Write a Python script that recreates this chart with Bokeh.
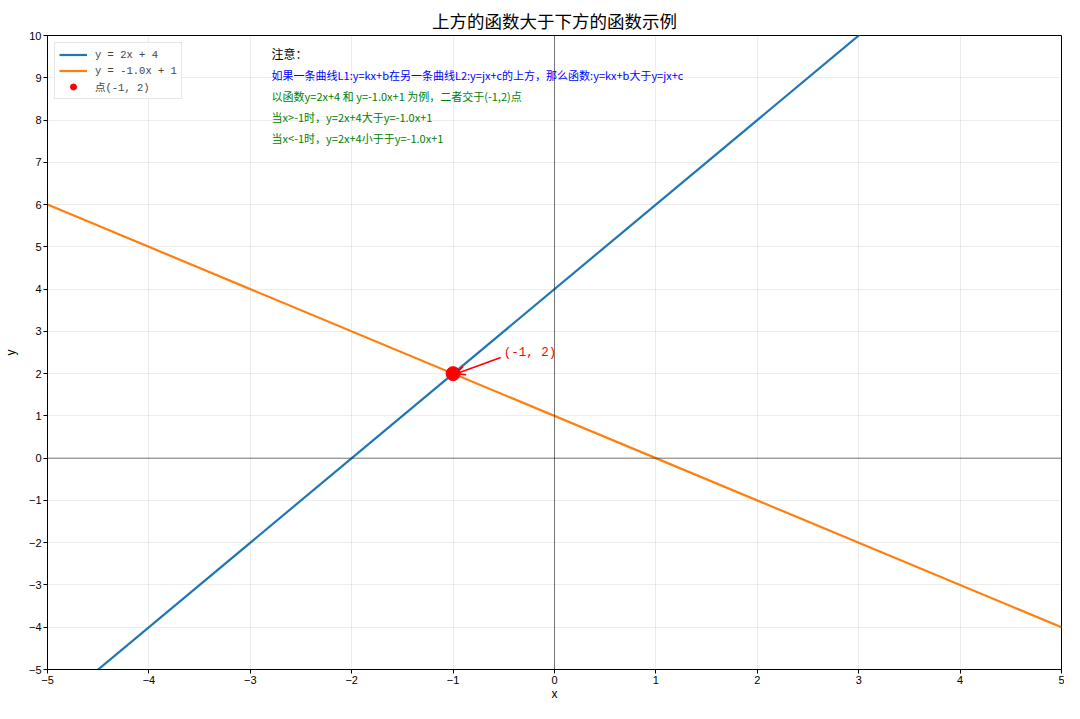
from bokeh.plotting import figure
from bokeh.models import (Span, Arrow, OpenHead, Legend, LegendItem, CustomJSTickFormatter,
                          FixedTicker, Range1d, Label)
from bokeh.embed import file_html
from bokeh.resources import INLINE

FONT = "Noto Sans CJK SC"
AXFONT = "Liberation Sans"
MONO = "'Liberation Mono', 'Noto Sans CJK SC'"

# data
line_x = [-5, 5]
blue_y = [-6, 14]      # y = 2x + 4
orange_y = [6, -4]     # y = -1.0x + 1
point_x = [-1]
point_y = [2]
x_ticks = list(range(-5, 6))
y_ticks = list(range(-5, 11))
labels = ["y = 2x + 4", "y = -1.0x + 1", "点(-1, 2)"]
title_text = "上方的函数大于下方的函数示例"
x_label = "x"
y_label = "y"
note_lines = [
    "注意：",
    "如果一条曲线L1:y=kx+b在另一条曲线L2:y=jx+c的上方，那么函数:y=kx+b大于y=jx+c",
    "以函数y=2x+4  和 y=-1.0x+1 为例，二者交于(-1,2)点",
    "当x>-1时，y=2x+4大于y=-1.0x+1",
    "当x<-1时，y=2x+4小于于y=-1.0x+1",
]
note_colors = ["black", "blue", "green", "green", "green"]
annot_text = "(-1, 2)"

XMIN, XMAX, YMIN, YMAX = -5, 5, -5, 10

p = figure(width=1064, height=703, output_backend="svg", toolbar_location=None,
           x_range=Range1d(XMIN, XMAX), y_range=Range1d(YMIN, YMAX),
           min_border_left=46, min_border_right=3, min_border_bottom=31, min_border_top=35)

p.title.text = title_text
p.title.align = "center"
p.title.text_font = FONT
p.title.text_font_size = "17.5px"
p.title.text_font_style = "normal"
p.title.text_color = "black"
p.title.offset = 0
p.title.standoff = 5

p.outline_line_color = "black"
p.outline_line_width = 1
p.outline_line_alpha = 1

fmt = CustomJSTickFormatter(code="return tick < 0 ? '\u2212' + Math.abs(tick) : tick.toString();")
for ax, ticks, lab, lstand in ((p.xaxis[0], x_ticks, x_label, 0), (p.yaxis[0], y_ticks, y_label, 8)):
    ax.ticker = FixedTicker(ticks=ticks)
    ax.formatter = fmt
    ax.axis_label = lab
    ax.axis_label_text_font = AXFONT
    ax.axis_label_text_font_size = "12px"
    ax.axis_label_text_font_style = "normal"
    ax.axis_label_text_color = "black"
    ax.axis_label_standoff = lstand
    ax.major_label_text_font = AXFONT
    ax.major_label_text_font_size = "11px"
    ax.major_label_text_color = "black"
    ax.major_tick_in = 0
    ax.major_tick_out = 4
    ax.minor_tick_line_color = None
    ax.axis_line_color = "black"
    ax.major_tick_line_color = "black"
    ax.major_label_standoff = 2

p.xgrid.ticker = FixedTicker(ticks=x_ticks)
p.ygrid.ticker = FixedTicker(ticks=y_ticks)
p.grid.grid_line_color = "#b0b0b0"
p.grid.grid_line_alpha = 0.3
p.grid.grid_line_width = 0.8

p.add_layout(Span(location=0, dimension="width", line_color="black", line_alpha=0.5, line_width=1))
p.add_layout(Span(location=0, dimension="height", line_color="black", line_alpha=0.5, line_width=1))

r1 = p.line(line_x, blue_y, line_color="#1f77b4", line_width=2.2)
r2 = p.line(line_x, orange_y, line_color="#ff7f0e", line_width=2.2)
r3 = p.scatter(point_x, point_y, size=14, color="red", line_color="red")

# annotation
p.add_layout(Arrow(end=OpenHead(size=9, line_color="red", line_width=1.6),
                   x_start=point_x[0] + 0.47, y_start=point_y[0] + 0.38,
                   x_end=point_x[0] + 0.03, y_end=point_y[0],
                   line_color="red", line_width=1.6))
p.add_layout(Label(x=point_x[0] + 0.5, y=point_y[0] + 0.5, text=annot_text,
                   text_color="red", text_font=MONO, text_font_size="12.5px",
                   text_baseline="alphabetic"))

# notes
note_y = [9.57, 9.07, 8.56, 8.08, 7.58]
for t, c, yy in zip(note_lines, note_colors, note_y):
    p.add_layout(Label(x=-2.79, y=yy, text=t, text_color=c, text_font=FONT,
                       text_font_size="12px" if c == "black" else "11px",
                       text_baseline="middle"))

legend = Legend(items=[LegendItem(label=labels[0], renderers=[r1]),
                       LegendItem(label=labels[1], renderers=[r2]),
                       LegendItem(label=labels[2], renderers=[r3])],
                location="top_left")
legend.label_text_font = MONO
legend.label_text_font_size = "10.5px"
legend.glyph_width = 28
legend.glyph_height = 15
legend.label_height = 15
legend.spacing = 1
legend.padding = 4
legend.margin = 7
legend.label_standoff = 8
legend.border_line_color = "#d0d0d0"
legend.border_line_width = 1
legend.background_fill_alpha = 0.85
p.add_layout(legend)

open("out.html", "w").write(file_html(p, INLINE))
